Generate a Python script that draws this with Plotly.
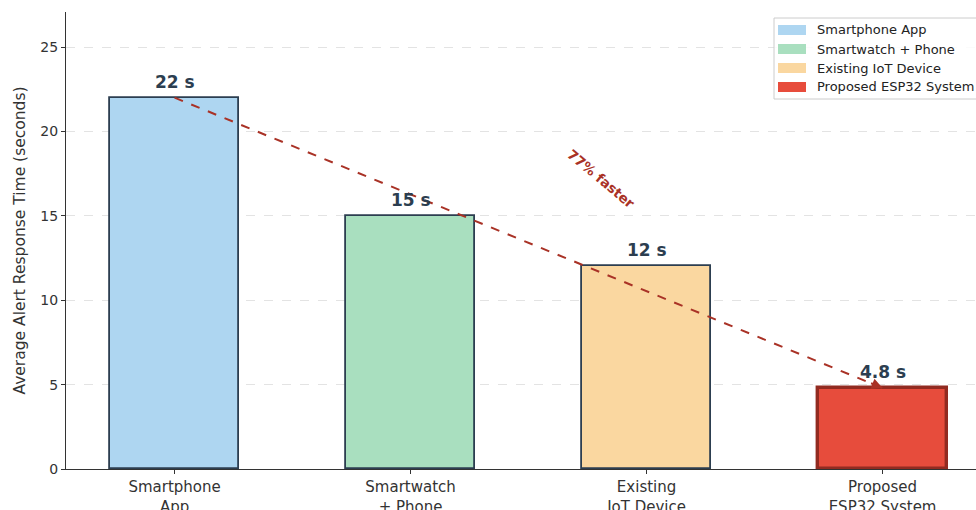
import plotly.graph_objects as go

categories = ["Smartphone<br>App", "Smartwatch<br>+ Phone", "Existing<br>IoT Device", "Proposed<br>ESP32 System"]
legend_names = ["Smartphone App", "Smartwatch + Phone", "Existing IoT Device", "Proposed ESP32 System"]
values = [22, 15, 12, 4.8]
value_labels = ["22 s", "15 s", "12 s", "4.8 s"]
fill_colors = ["#aed6f1", "#a9dfbf", "#fad7a0", "#e74c3c"]
edge_colors = ["#2c3e50", "#2c3e50", "#2c3e50", "#922b21"]
edge_widths = [1.8, 1.8, 1.8, 3.4]
improvement_text = "77% faster"

W, H = 976, 510
ML, MR, MT, MB = 66, 0, 12, 41
PW, PH = W - ML - MR, H - MT - MB

def px_x(px):
    return (px - ML) / PW

def px_y(py):
    return (H - MB - py) / PH

xs = list(range(len(categories)))

fig = go.Figure()
fig.add_trace(go.Bar(
    x=xs, y=values, width=0.55,
    marker=dict(color=fill_colors, line=dict(color=edge_colors, width=edge_widths)),
    showlegend=False, hoverinfo="skip",
))

annotations = []
for i, (v, t) in enumerate(zip(values, value_labels)):
    annotations.append(dict(x=i, y=v, text=f"<b>{t}</b>", showarrow=False, yanchor="bottom",
                            yshift=4, font=dict(family="DejaVu Sans", size=17, color="#2c3e50")))

# dashed trend line from first to last bar
line_color = "#a93226"
shapes = [dict(type="line", x0=0, y0=values[0], x1=len(values) - 1, y1=values[-1], xref="x", yref="y",
               line=dict(color=line_color, width=2, dash="dash"), layer="above")]
# arrow head at the end
annotations.append(dict(x=len(values) - 1, y=values[-1], xref="x", yref="y", ax=-13, ay=-5.3,
                        axref="pixel", ayref="pixel", showarrow=True, arrowhead=2, arrowsize=1.1,
                        arrowwidth=2, arrowcolor=line_color, text="", standoff=0))
annotations.append(dict(x=1.81, y=17.2, xref="x", yref="y", text=f"<b>{improvement_text}</b>",
                        showarrow=False, textangle=40,
                        font=dict(family="DejaVu Sans", size=13.5, color=line_color)))

# manual legend (matplotlib style)
box_l, box_t, box_r, box_b = 774, 18, 1000, 99
shapes.append(dict(type="rect", xref="paper", yref="paper",
                   x0=px_x(box_l), x1=px_x(box_r), y0=px_y(box_b), y1=px_y(box_t),
                   fillcolor="rgba(255,255,255,0.85)", line=dict(color="#cccccc", width=1), layer="above"))
for k, (name, col) in enumerate(zip(legend_names, fill_colors)):
    cy = 30 + 19 * k
    shapes.append(dict(type="rect", xref="paper", yref="paper",
                       x0=px_x(778), x1=px_x(806), y0=px_y(cy + 5), y1=px_y(cy - 5),
                       fillcolor=col, line=dict(width=0), layer="above"))
    annotations.append(dict(xref="paper", yref="paper", x=px_x(815), y=px_y(cy), text=name,
                            showarrow=False, xanchor="left", yanchor="middle",
                            font=dict(family="DejaVu Sans", size=13, color="#222222")))

fig.update_layout(
    width=W, height=H, margin=dict(l=ML, r=MR, t=MT, b=MB, autoexpand=False),
    plot_bgcolor="white", paper_bgcolor="white", bargap=0,
    font=dict(family="DejaVu Sans", color="#333333"),
    shapes=shapes, annotations=annotations,
    xaxis=dict(range=[-0.46, -0.46 + PW / 236.0], tickmode="array", tickvals=xs, ticktext=categories,
               showgrid=False, zeroline=False, showline=True, linecolor="#333333", linewidth=1.3,
               ticks="outside", ticklen=4, tickcolor="#333333", tickfont=dict(size=15, color="#333333")),
    yaxis=dict(range=[0, PH / 16.88], tickvals=[0, 5, 10, 15, 20, 25], showgrid=True,
               gridcolor="#e3e3e3", griddash="dash", gridwidth=1, zeroline=False,
               showline=True, linecolor="#333333", linewidth=1.3, ticks="outside", ticklen=4,
               tickcolor="#333333", tickfont=dict(size=14, color="#333333"),
               title=dict(text="Average Alert Response Time (seconds)", font=dict(size=15.5, color="#333333"),
                          standoff=10)),
)

fig.write_html("out.html")
